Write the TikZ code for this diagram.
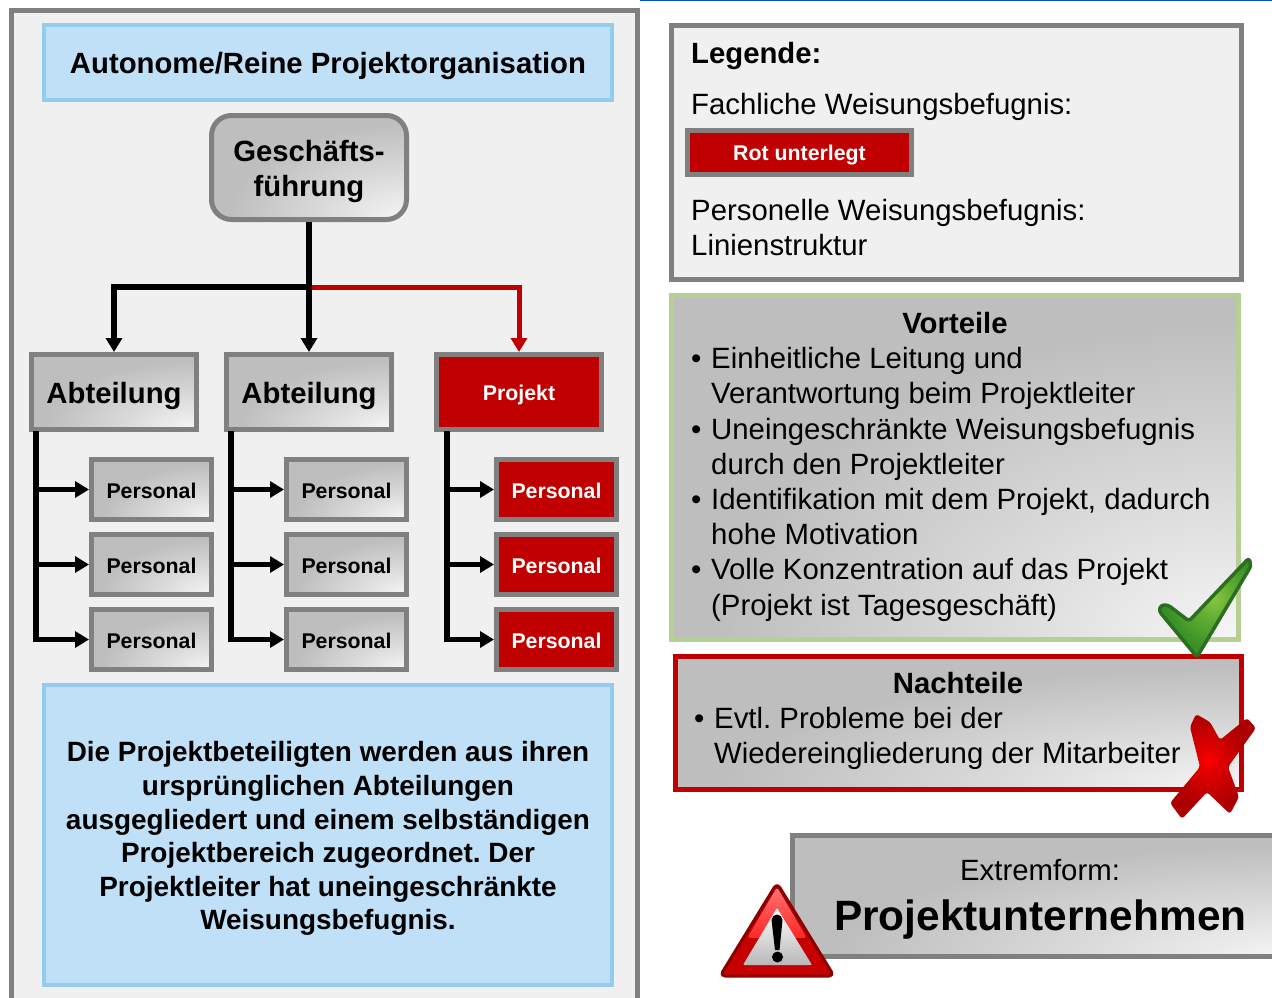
\documentclass[tikz,border=0pt]{standalone}
\usepackage{fontspec}
\setmainfont{Liberation Sans}
\usetikzlibrary{arrows.meta,calc}
\definecolor{fr}{HTML}{808080}
\definecolor{pale}{HTML}{F0F0F0}
\definecolor{bluefill}{HTML}{BFE0F6}
\definecolor{blueline}{HTML}{95CBEF}
\definecolor{rd}{HTML}{C00000}
\definecolor{greenline}{HTML}{B5CF95}
\definecolor{gA}{HTML}{F6F6F6}
\definecolor{gB}{HTML}{DADADA}
\definecolor{gC}{HTML}{BEBEBE}
\definecolor{chkA}{HTML}{86C63E}
\definecolor{chkB}{HTML}{62AE34}
\definecolor{chkC}{HTML}{388F26}
\definecolor{chkEdge}{HTML}{2B6E22}
\pgfdeclareradialshading{gloss}{\pgfpointorigin}{color(0bp)=(gA);color(11bp)=(gB);color(23bp)=(gC);color(100bp)=(gC)}
\pgfdeclareradialshading{redglow}{\pgfpoint{-3bp}{3bp}}{color(0bp)=(red);color(6bp)=(red!88!black);color(22bp)=(red!68!black);color(100bp)=(red!60!black)}
\pgfdeclareradialshading{greenglow}{\pgfpoint{5bp}{5bp}}{color(0bp)=(chkA);color(10bp)=(chkB);color(25bp)=(chkC);color(100bp)=(chkC)}
\newcommand{\fsz}[1]{\fontsize{#1}{#1}\selectfont}
\tikzset{
 x=1pt,y=-1pt,
 glossy/.style={fill=gC,path picture={
   \path[shade,shading=gloss] let \p1=($(path picture bounding box.north east)-(path picture bounding box.south west)$) in
     (path picture bounding box.south east) ellipse [x radius=\x1,y radius=\y1];}},
 box/.style={draw=fr,line width=5pt,glossy,inner sep=0pt,align=center,font=\fsz{29.3}\bfseries,text=black},
 abbox/.style={box,minimum width=165pt,minimum height=75pt,text height=22pt,text depth=0pt},
 pjbox/.style={draw=fr,line width=5pt,inner sep=0pt,fill=rd,text=white,font=\fsz{21.3}\bfseries,minimum width=165pt,minimum height=75pt,text height=16pt,text depth=0pt},
 pbox/.style={box,minimum width=120pt,minimum height=60pt,font=\fsz{21.3}\bfseries,text height=17pt,text depth=0pt},
 rbox/.style={draw=fr,line width=5pt,inner sep=0pt,fill=rd,text=white,font=\fsz{21.3}\bfseries,minimum width=120pt,minimum height=60pt,text height=17pt,text depth=0pt},
 bluebox/.style={draw=blueline,line width=4pt,fill=bluefill,inner sep=0pt},
 txt/.style={anchor=base west,inner sep=0pt,font=\fsz{29.35}},
 ctxt/.style={anchor=base,inner sep=0pt,font=\fsz{29.35}},
 blk/.style={draw=black,line width=5.5pt},
 blkarrow/.style={blk,-{Triangle[length=14pt,width=16pt]}},
 redarrow/.style={draw=rd,line width=5pt,-{Triangle[length=14pt,width=16pt]}},
}
\begin{document}
\frenchspacing
\begin{tikzpicture}
\useasboundingbox (0,0) rectangle (1272,997);
\fill[white] (0,0) rectangle (1272,997);
\draw[draw=blue!60!cyan!80!black,line width=1.5pt] (640,0.5) -- (1272,0.5);
\clip (0,0) rectangle (1272,997);
% left panel
\node[draw=fr,line width=5pt,fill=pale,minimum width=626pt,minimum height=1040pt,anchor=north west,inner sep=0pt] (panel) at (9,8) {};
\node[bluebox,minimum width=568pt,minimum height=75pt,font=\fsz{29.3}\bfseries,text height=21pt,text depth=0pt] (title) at (328,62.5) {Autonome/Reine Projektorganisation};
\node[box,rounded corners=20pt,minimum width=195pt,minimum height=104pt,text=black] (gf) at (309,167.5) {\rule{0pt}{29pt}Geschäfts-\\[5.5pt]führung};
\node[abbox] (ab1) at (114,392) {Abteilung};
\node[abbox] (ab2) at (309,392) {Abteilung};
\node[pjbox] (pj) at (519,392) {Projekt};
\foreach \c/\x in {1/151.5,2/346.5}{
 \node[pbox] (p\c1) at (\x,489.5) {Personal};
 \node[pbox] (p\c2) at (\x,564.5) {Personal};
 \node[pbox] (p\c3) at (\x,639.5) {Personal};
}
\node[rbox] (p31) at (556.5,489.5) {Personal};
\node[rbox] (p32) at (556.5,564.5) {Personal};
\node[rbox] (p33) at (556.5,639.5) {Personal};
% connectors
\coordinate (branch) at (309,287);
\draw[redarrow] (gf.south) |- (branch) -| (pj.north);
\draw[blkarrow] (gf.south) -- (ab2.north);
\draw[blkarrow] (branch) -| (ab1.north);
\coordinate (t1) at (36,431);
\coordinate (t2) at (231,431);
\coordinate (t3) at (447,431);
\foreach \c/\t in {1/t1,2/t2,3/t3}{
 \draw[blkarrow] (\t) |- (p\c3.west);
 \draw[blkarrow] (\t |- p\c1.west) -- (p\c1.west);
 \draw[blkarrow] (\t |- p\c2.west) -- (p\c2.west);
}
% description
\node[bluebox,minimum width=568pt,minimum height=300pt] (desc) at (328,835) {};
\foreach \y/\s in {761/Die Projektbeteiligten werden aus ihren,795/ursprünglichen Abteilungen,829/ausgegliedert und einem selbständigen,862/Projektbereich zugeordnet. Der,896/Projektleiter hat uneingeschränkte,929/Weisungsbefugnis.}
 \node[ctxt,font=\fsz{27.9}\bfseries] at (328,\y) {\s};
% legend
\node[draw=fr,line width=5pt,fill=pale,minimum width=570pt,minimum height=254pt,inner sep=0pt] (leg) at (956.5,152.5) {};
\node[txt,font=\fsz{29.3}\bfseries] at (691,63) {Legende:};
\node[txt] at (691,114) {Fachliche Weisungsbefugnis:};
\node[draw=fr,line width=5pt,fill=rd,text=white,minimum width=224pt,minimum height=44pt,inner sep=0pt,font=\fsz{21.3}\bfseries,text height=15pt,text depth=0pt] (rot) at (799.5,152.5) {Rot unterlegt};
\node[txt] at (691,220) {Personelle Weisungsbefugnis:};
\node[txt] at (691,255) {Linienstruktur};
% Vorteile
\node[draw=greenline,line width=5pt,glossy,minimum width=567pt,minimum height=344pt,inner sep=0pt] (vor) at (955,467.5) {};
\node[ctxt,font=\fsz{29.3}\bfseries] at (955,333) {Vorteile};
\foreach \y in {368,439,509,579} \node[txt] at (691,\y) {•};
\foreach \y/\s in {368/Einheitliche Leitung und,403/Verantwortung beim Projektleiter,439/Uneingeschränkte Weisungsbefugnis,474/durch den Projektleiter,509/{Identifikation mit dem Projekt, dadurch},544/hohe Motivation,579/Volle Konzentration auf das Projekt,615/(Projekt ist Tagesgeschäft)}
 \node[txt] at (711,\y) {\s};
% Nachteile
\node[draw=rd,line width=5pt,glossy,minimum width=566pt,minimum height=133pt,inner sep=0pt] (nach) at (958.5,723) {};
\node[ctxt,font=\fsz{29.3}\bfseries] at (958,693) {Nachteile};
\node[txt] at (694,728) {•};
\node[txt] at (714,728) {Evtl. Probleme bei der};
\node[txt] at (714,763) {Wiedereingliederung der Mitarbeiter};
% check mark
\draw[draw=chkEdge,line width=3.5pt,shade,shading=greenglow,rounded corners=3pt,line join=round]
 (1249,558) -- (1251,566) -- (1197,657) -- (1159,611) -- (1161,605) -- (1168,605) -- (1189,621) -- cycle;
% cross
\path[shade,shading=redglow,rounded corners=3pt]
 (1196,714) -- (1210,722) -- (1220,740) -- (1247,718) -- (1256,728) -- (1228,767) -- (1239,797) -- (1230,814) -- (1207,792) -- (1182,819) -- (1170,803) -- (1200,767) -- (1190,727) -- cycle;
% Extremform
\node[draw=fr,line width=5pt,glossy,minimum width=510pt,minimum height=121pt,anchor=north west,inner sep=0pt] (ext) at (790,833) {};
\node[ctxt] at (1040,880) {Extremform:};
\node[txt,font=\fsz{42.4}\bfseries] at (834,930) {Projektunternehmen};
% warning triangle
\draw[draw=red!55!black,line width=3pt,fill=rd!90!red,rounded corners=5pt,line join=round] (777,883) -- (720,976) -- (834,976) -- cycle;
\fill[rounded corners=3pt,top color=red!55!white,bottom color=red!85!white] (777,887) -- (747,938) -- (807,938) -- cycle;
\shade[top color=white,bottom color=white!72!black,rounded corners=1pt] (777,908) -- (743,965) -- (812,965) -- cycle;
\fill[black] (771.5,920) arc[start angle=180,end angle=360,radius=5.5] -- (779.5,950) -- (775,950) -- cycle;
\fill[black] (777.5,957) circle[radius=5.5];
\end{tikzpicture}
\end{document}
